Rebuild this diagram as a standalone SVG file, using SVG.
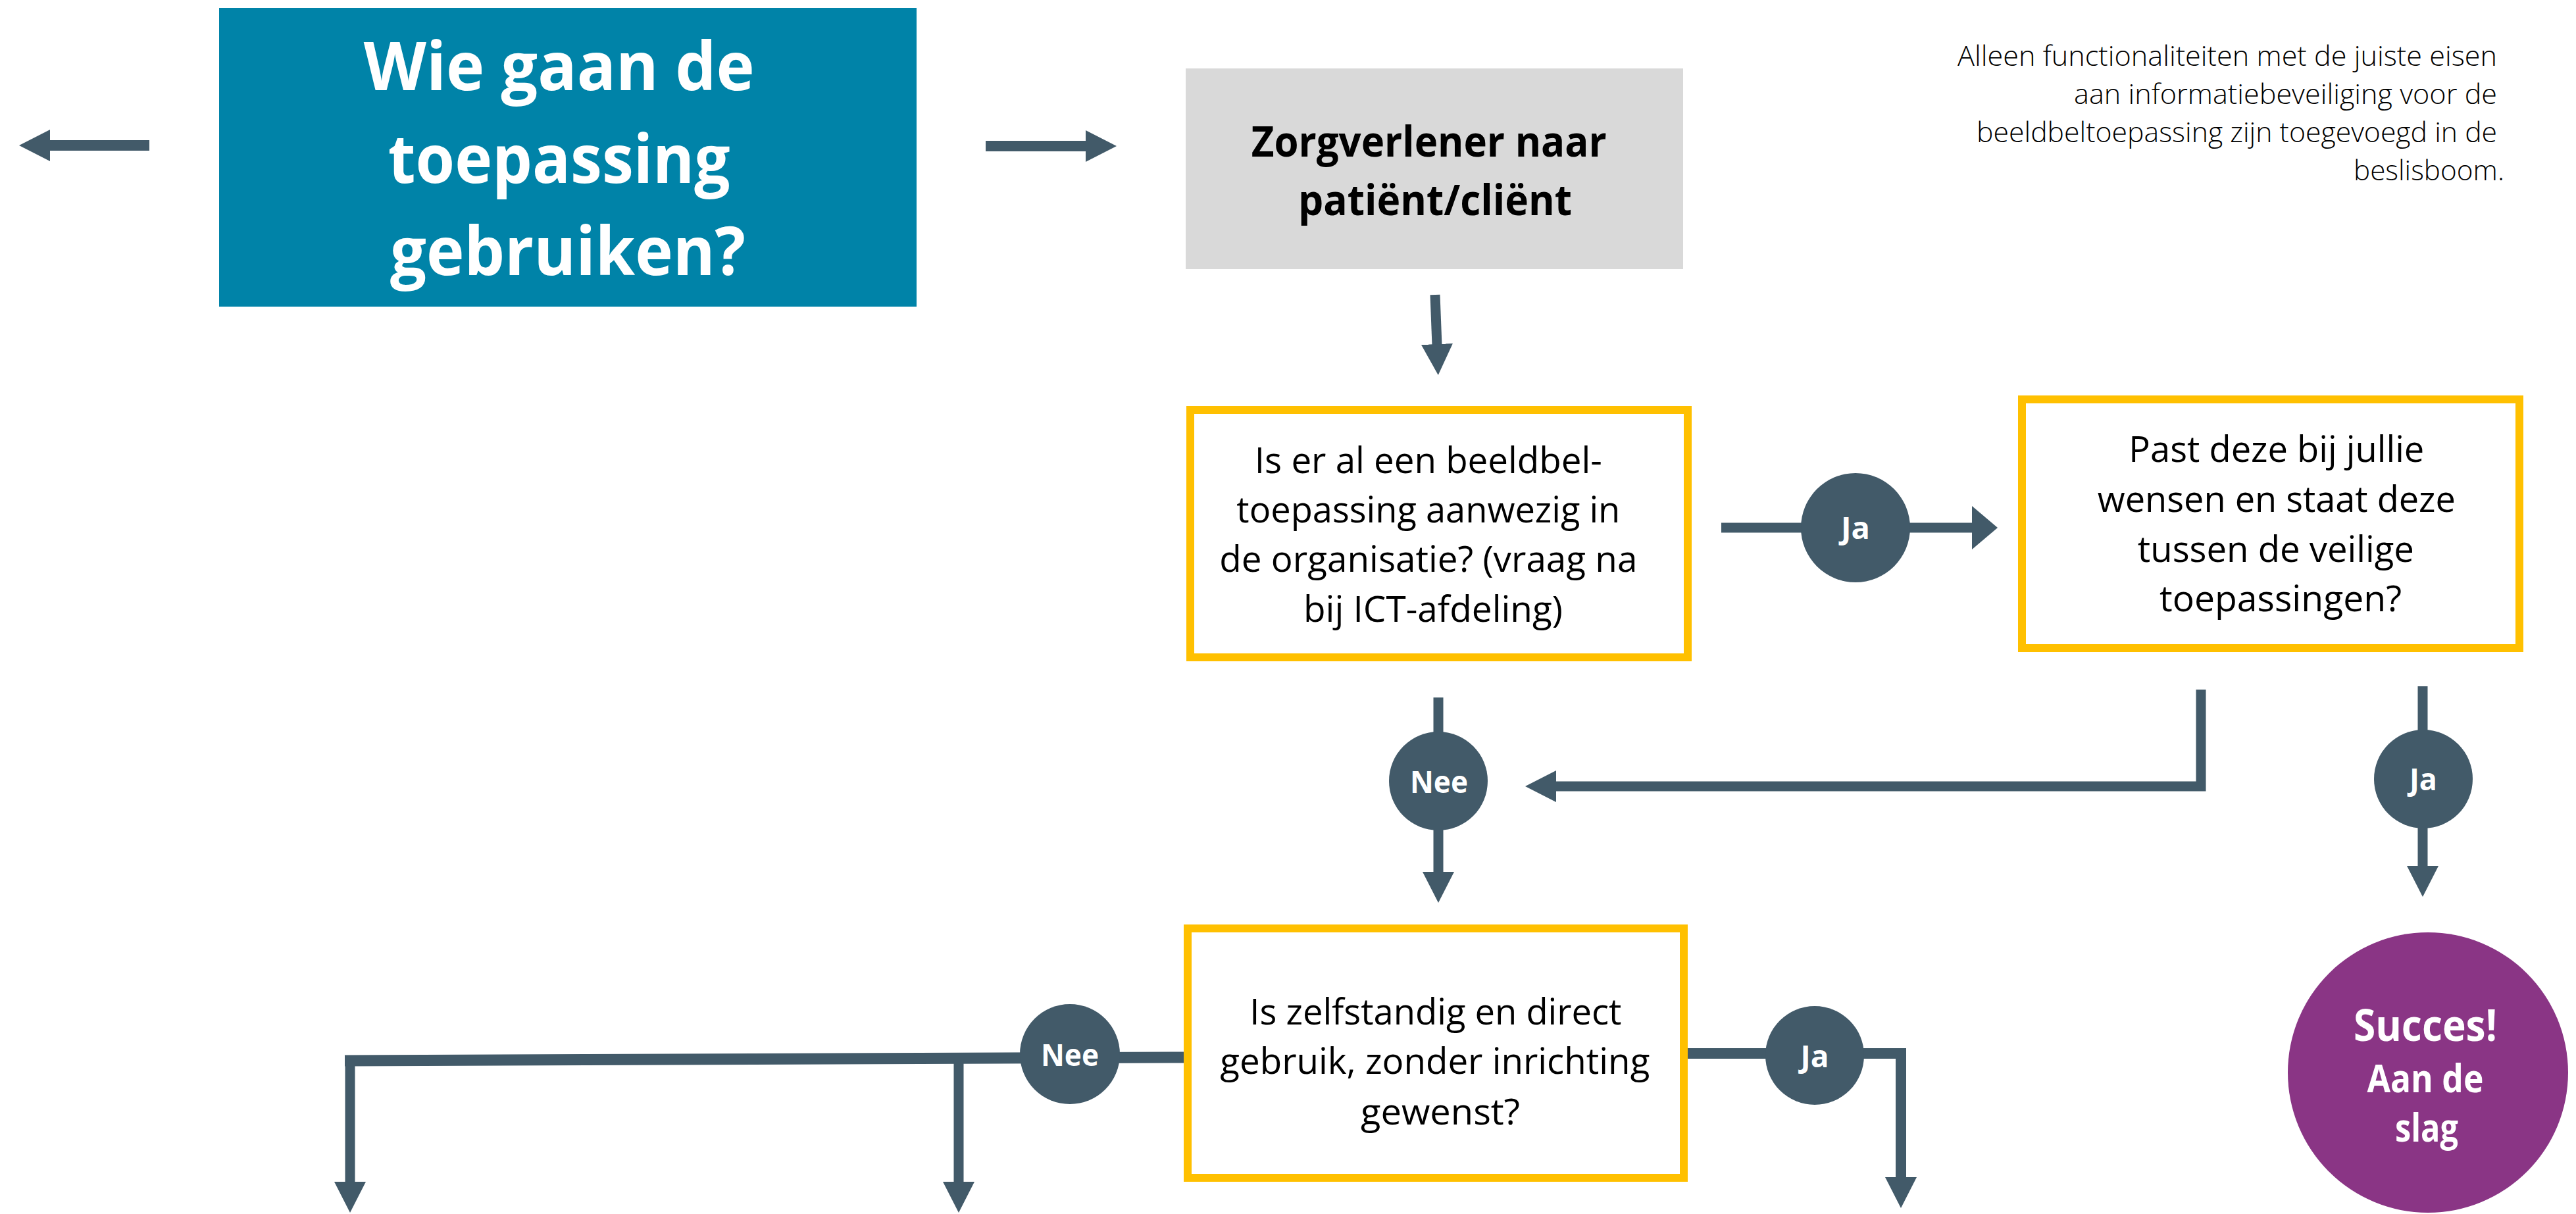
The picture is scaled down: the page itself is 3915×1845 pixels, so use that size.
<svg xmlns="http://www.w3.org/2000/svg" width="3915" height="1845" viewBox="0 0 3915 1845">
<style>
.con{fill:none;stroke:#425A69;stroke-linejoin:miter;stroke-linecap:butt}
.q{fill:#FFFFFF;stroke:#FFC000;stroke-width:12}
.qt{font-family:"Open Sans","Liberation Sans",sans-serif;font-size:55px;fill:#000000;text-anchor:middle}
.lbl{fill:#425A69}
.lt{font-family:"Open Sans","Liberation Sans",sans-serif;font-size:47px;font-weight:700;fill:#FFFFFF;text-anchor:middle}
</style>
<defs>
<marker id="ah" viewBox="0 0 47 48" refX="2" refY="24" markerWidth="47" markerHeight="48" markerUnits="userSpaceOnUse" orient="auto">
<path d="M0,0 L47,24 L0,48 z" fill="#425A69"/>
</marker>
<marker id="ah2" viewBox="0 0 39 66" refX="2" refY="33" markerWidth="39" markerHeight="66" markerUnits="userSpaceOnUse" orient="auto">
<path d="M0,0 L39,33 L0,66 z" fill="#425A69"/>
</marker>
</defs>
<rect width="3915" height="1845" fill="#FFFFFF"/>

<g id="connectors">
<line class="con" x1="227" y1="221" x2="74" y2="221" stroke-width="16" marker-end="url(#ah)"/>
<line class="con" x1="1498" y1="222" x2="1652" y2="222" stroke-width="16" marker-end="url(#ah)"/>
<line class="con" x1="2181" y1="448" x2="2184" y2="525" stroke-width="15" marker-end="url(#ah)"/>
<line class="con" x1="2616" y1="802" x2="2999" y2="802" stroke-width="15" marker-end="url(#ah2)"/>
<line class="con" x1="2186" y1="1060" x2="2186" y2="1327" stroke-width="15" marker-end="url(#ah)"/>
<path class="con" d="M3345,1048 V1195 H2363" stroke-width="15" marker-end="url(#ah)"/>
<line class="con" x1="3682" y1="1043" x2="3682" y2="1318" stroke-width="15" marker-end="url(#ah)"/>
<path class="con" d="M1799,1607 L524,1612" stroke-width="17"/>
<line class="con" x1="532" y1="1604" x2="532" y2="1798" stroke-width="15" marker-end="url(#ah)"/>
<line class="con" x1="1457" y1="1609" x2="1457" y2="1798" stroke-width="15" marker-end="url(#ah)"/>
<path class="con" d="M2565,1601 H2889 V1791" stroke-width="16" marker-end="url(#ah)"/>
</g>

<g id="title">
<rect x="333" y="12" width="1060" height="454" fill="#0083A8"/>
<text font-family="'Open Sans','Liberation Sans',sans-serif" font-size="102" font-weight="700" fill="#FFFFFF" text-anchor="middle">
<tspan x="863" y="137" textLength="594" lengthAdjust="spacingAndGlyphs">Wie gaan de</tspan>
<tspan x="863" y="278" textLength="520" lengthAdjust="spacingAndGlyphs">toepassing</tspan>
<tspan x="863" y="418" textLength="540" lengthAdjust="spacingAndGlyphs">gebruiken?</tspan>
</text>
</g>

<g id="start">
<rect x="1802" y="104" width="756" height="305" fill="#D9D9D9"/>
<text font-family="'Open Sans','Liberation Sans',sans-serif" font-size="64" font-weight="700" fill="#000000" text-anchor="middle">
<tspan x="2180" y="238" textLength="540" lengthAdjust="spacingAndGlyphs">Zorgverlener naar</tspan>
<tspan x="2181" y="327" textLength="416" lengthAdjust="spacingAndGlyphs">patiënt/cliënt</tspan>
</text>
</g>

<g id="note">
<text font-family="'Open Sans','Liberation Sans',sans-serif" font-size="42" font-weight="300" fill="#000000" text-anchor="end">
<tspan x="3806" y="100" textLength="820" lengthAdjust="spacingAndGlyphs">Alleen functionaliteiten met de juiste eisen</tspan>
<tspan x="3806" y="158" textLength="643" lengthAdjust="spacingAndGlyphs">aan informatiebeveiliging voor de</tspan>
<tspan x="3806" y="216" textLength="791" lengthAdjust="spacingAndGlyphs">beeldbeltoepassing zijn toegevoegd in de</tspan>
<tspan x="3806" y="274" textLength="229" lengthAdjust="spacingAndGlyphs">beslisboom.</tspan>
</text>
</g>

<g id="q1">
<rect class="q" x="1809" y="623" width="756" height="376"/>
<text class="qt">
<tspan x="2178" y="719" textLength="528" lengthAdjust="spacingAndGlyphs">Is er al een beeldbel-</tspan>
<tspan x="2178" y="794" textLength="583" lengthAdjust="spacingAndGlyphs">toepassing aanwezig in</tspan>
<tspan x="2178" y="869" textLength="635" lengthAdjust="spacingAndGlyphs">de organisatie? (vraag na</tspan>
<tspan x="2178" y="945" textLength="394" lengthAdjust="spacingAndGlyphs">bij ICT-afdeling)</tspan>
</text>
</g>

<g id="q2">
<rect class="q" x="3073" y="607" width="756" height="378"/>
<text class="qt">
<tspan x="3467" y="702" textLength="449" lengthAdjust="spacingAndGlyphs">Past deze bij jullie</tspan>
<tspan x="3467" y="778" textLength="544" lengthAdjust="spacingAndGlyphs">wensen en staat deze</tspan>
<tspan x="3466" y="854" textLength="420" lengthAdjust="spacingAndGlyphs">tussen de veilige</tspan>
<tspan x="3466" y="929" textLength="368" lengthAdjust="spacingAndGlyphs">toepassingen?</tspan>
</text>
</g>

<g id="q3">
<rect class="q" x="1805" y="1411" width="754" height="379"/>
<text class="qt">
<tspan x="2189" y="1557" textLength="565" lengthAdjust="spacingAndGlyphs">Is zelfstandig en direct</tspan>
<tspan x="2188" y="1632" textLength="653" lengthAdjust="spacingAndGlyphs">gebruik, zonder inrichting</tspan>
<tspan x="2189" y="1709" textLength="242" lengthAdjust="spacingAndGlyphs">gewenst?</tspan>
</text>
</g>

<g id="ja1">
<circle class="lbl" cx="2820" cy="802" r="83"/>
<text class="lt" x="2820" y="819" textLength="44" lengthAdjust="spacingAndGlyphs">Ja</text>
</g>
<g id="nee1">
<circle class="lbl" cx="2186" cy="1187" r="75"/>
<text class="lt" x="2187" y="1205" textLength="88" lengthAdjust="spacingAndGlyphs">Nee</text>
</g>
<g id="ja2">
<circle class="lbl" cx="3683" cy="1184" r="75"/>
<text class="lt" x="3683" y="1201" textLength="42" lengthAdjust="spacingAndGlyphs">Ja</text>
</g>
<g id="nee2">
<circle class="lbl" cx="1626" cy="1602" r="76"/>
<text class="lt" x="1626" y="1620" textLength="88" lengthAdjust="spacingAndGlyphs">Nee</text>
</g>
<g id="ja3">
<circle class="lbl" cx="2758" cy="1604" r="75"/>
<text class="lt" x="2758" y="1622" textLength="43" lengthAdjust="spacingAndGlyphs">Ja</text>
</g>

<g id="succes">
<circle cx="3690" cy="1630" r="213" fill="#8A3585"/>
<text font-family="'Open Sans','Liberation Sans',sans-serif" font-weight="700" fill="#FFFFFF" text-anchor="middle">
<tspan x="3688" y="1582" font-size="66" textLength="218" lengthAdjust="spacingAndGlyphs">Succes!</tspan>
<tspan x="3688" y="1660" font-size="59" textLength="177" lengthAdjust="spacingAndGlyphs">Aan de</tspan>
<tspan x="3688" y="1735" font-size="59" textLength="96" lengthAdjust="spacingAndGlyphs">slag</tspan>
</text>
</g>
</svg>
